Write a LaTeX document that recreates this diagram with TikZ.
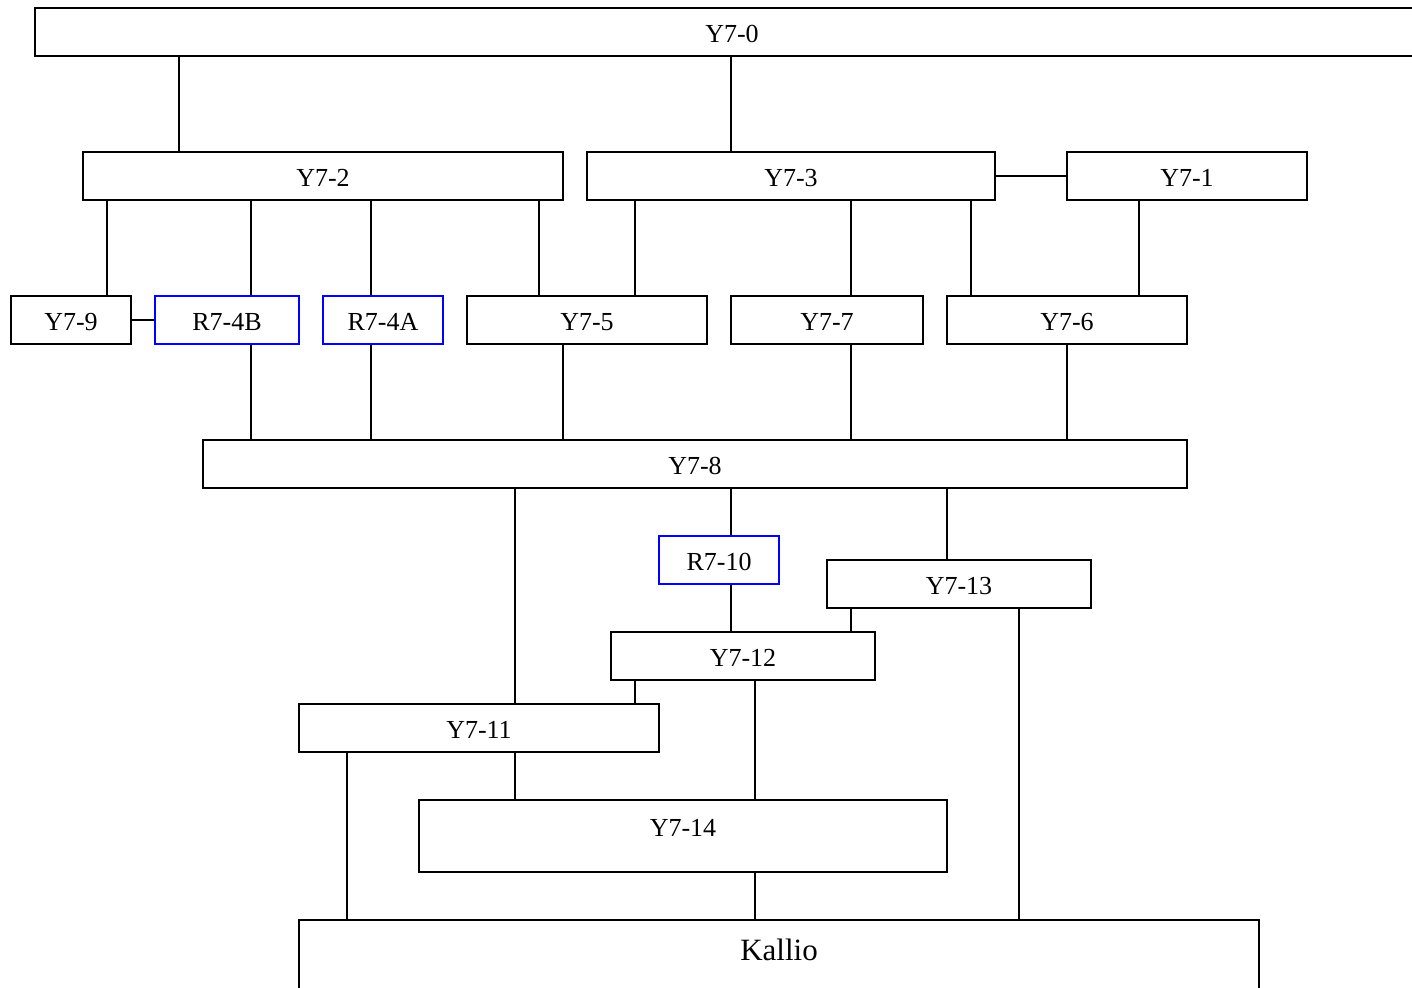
\documentclass[tikz,border=0pt]{standalone}
\usepackage{fontspec}
\setmainfont{Liberation Serif}
\tikzset{
  unit/.style={draw, line width=0.8pt, inner sep=0pt, minimum height=24pt, text height=10.5pt, font=\fontsize{13}{15}\selectfont},
  find/.style={unit, draw=blue},
  link/.style={line width=0.8pt}
}
\begin{document}
\begin{tikzpicture}[x=0.5pt, y=-0.5pt]
    \useasboundingbox (0,0) rectangle (1412,988);
    \node[unit, minimum width=697pt] (y0) at (732,32) {Y7-0};
    \node[unit, minimum width=240pt] (y2) at (323,176) {Y7-2};
    \node[unit, minimum width=204pt] (y3) at (791,176) {Y7-3};
    \node[unit, minimum width=120pt] (y1) at (1187,176) {Y7-1};
    \node[unit, minimum width=60pt] (y9) at (71,320) {Y7-9};
    \node[find, minimum width=72pt] (r4b) at (227,320) {R7-4B};
    \node[find, minimum width=60pt] (r4a) at (383,320) {R7-4A};
    \node[unit, minimum width=120pt] (y5) at (587,320) {Y7-5};
    \node[unit, minimum width=96pt] (y7) at (827,320) {Y7-7};
    \node[unit, minimum width=120pt] (y6) at (1067,320) {Y7-6};
    \node[unit, minimum width=492pt] (y8) at (695,464) {Y7-8};
    \node[find, minimum width=60pt] (r10) at (719,560) {R7-10};
    \node[unit, minimum width=132pt] (y13) at (959,584) {Y7-13};
    \node[unit, minimum width=132pt] (y12) at (743,656) {Y7-12};
    \node[unit, minimum width=180pt] (y11) at (479,728) {Y7-11};
    \node[unit, minimum width=264pt, minimum height=36pt, text depth=10pt] (y14) at (683,836) {Y7-14};
    \node[unit, minimum width=480pt, minimum height=50pt, text depth=20pt, font=\fontsize{15.5}{18}\selectfont] (rock) at (779,970) {Kallio};
    \foreach \a/\b/\x in {y0/y2/179, y0/y3/731, y2/y9/107, y2/r4b/251, y2/r4a/371, y2/y5/539,
        y3/y5/635, y3/y7/851, y3/y6/971, y1/y6/1139, r4b/y8/251, r4a/y8/371, y5/y8/563,
        y7/y8/851, y6/y8/1067, y8/r10/731, y8/y13/947, y8/y11/515, r10/y12/731, y13/y12/851,
        y13/rock/1019, y12/y11/635, y12/y14/755, y11/y14/515, y11/rock/347, y14/rock/755}
        \draw[link] (\a.south -| \x,0) -- (\b.north -| \x,0);
    \draw[link] (y3.east) -- (y1.west);
    \draw[link] (y9.east) -- (r4b.west);
\end{tikzpicture}
\end{document}
